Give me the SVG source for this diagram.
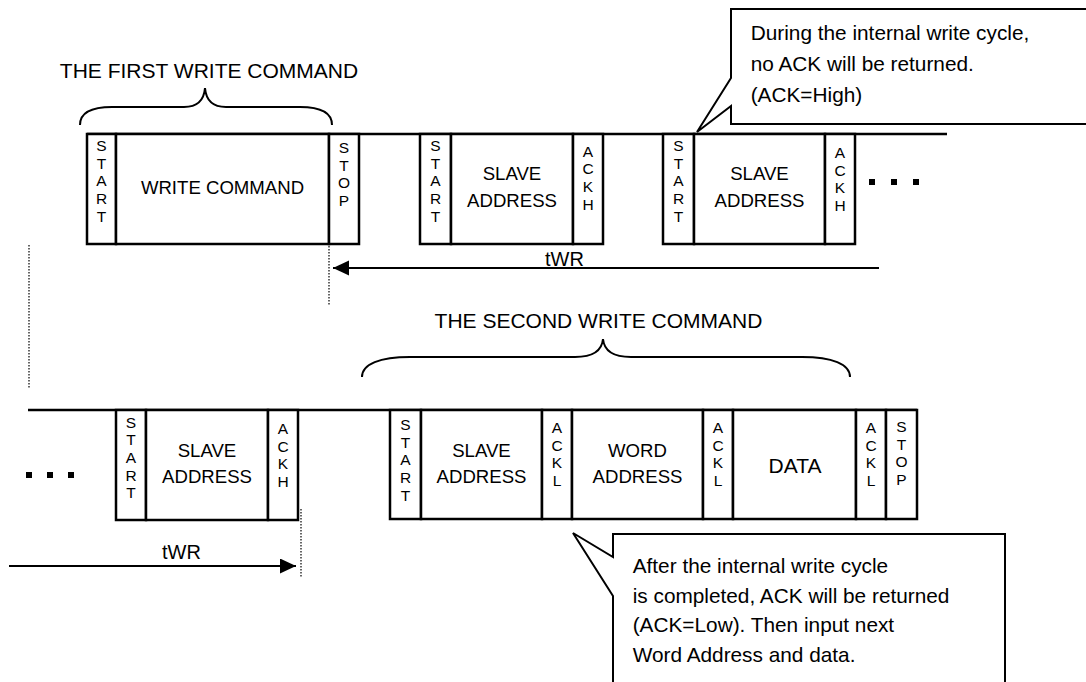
<svg xmlns="http://www.w3.org/2000/svg" width="1086" height="682" viewBox="0 0 1086 682">
<style>
  .bg{fill:#fff}
  .fld{fill:#fff;stroke:#000;stroke-width:2.5}
  .bus{fill:none;stroke:#000;stroke-width:2.5}
  .lbl{font-family:"Liberation Sans",Arial,sans-serif;font-size:18.6px;fill:#000;text-anchor:middle}
  .big{font-family:"Liberation Sans",Arial,sans-serif;font-size:21px;fill:#000;text-anchor:middle}
  .vert{font-family:"Liberation Sans",Arial,sans-serif;font-size:15.5px;fill:#000;text-anchor:middle}
  .note{font-family:"Liberation Sans",Arial,sans-serif;font-size:20.8px;fill:#000}
  .twr{font-family:"Liberation Sans",Arial,sans-serif;font-size:20px;fill:#000;text-anchor:middle}
  .brace{fill:none;stroke:#000;stroke-width:2}
  .callout{fill:#fff;stroke:#000;stroke-width:2}
  .arr{fill:none;stroke:#000;stroke-width:2}
  .dot{fill:none;stroke:#000;stroke-width:1.2;stroke-dasharray:1.5 1.5}
  .sq{fill:#000}
</style>
<defs>
  <marker id="ah" markerUnits="userSpaceOnUse" markerWidth="17" markerHeight="16" refX="16" refY="7.5" orient="auto">
    <path d="M0,0 L16,7.5 L0,15 z" fill="#000"/>
  </marker>
</defs>
<rect class="bg" x="0" y="0" width="1086" height="682"/>

<!-- bus lines -->
<g id="bus-lines">
  <line class="bus" x1="87" y1="134" x2="947" y2="134"/>
  <line class="bus" x1="28" y1="410" x2="917" y2="410"/>
</g>

<!-- Top row -->
<g id="t-start1"><rect class="fld" x="87" y="134" width="29" height="110"/>
  <text class="vert" x="101.5" y="151"><tspan x="101.5">S</tspan><tspan x="101.5" dy="17.7">T</tspan><tspan x="101.5" dy="17.7">A</tspan><tspan x="101.5" dy="17.7">R</tspan><tspan x="101.5" dy="17.7">T</tspan></text></g>
<g id="t-write"><rect class="fld" x="116" y="134" width="213" height="110"/>
  <text class="lbl" x="222.5" y="194">WRITE COMMAND</text></g>
<g id="t-stop1"><rect class="fld" x="329" y="134" width="30" height="110"/>
  <text class="vert" x="344" y="153"><tspan x="344">S</tspan><tspan x="344" dy="17.7">T</tspan><tspan x="344" dy="17.7">O</tspan><tspan x="344" dy="17.7">P</tspan></text></g>

<g id="t-start2"><rect class="fld" x="420" y="134" width="31" height="110"/>
  <text class="vert" x="435.5" y="151"><tspan x="435.5">S</tspan><tspan x="435.5" dy="17.7">T</tspan><tspan x="435.5" dy="17.7">A</tspan><tspan x="435.5" dy="17.7">R</tspan><tspan x="435.5" dy="17.7">T</tspan></text></g>
<g id="t-slave2"><rect class="fld" x="451" y="134" width="122" height="110"/>
  <text class="lbl" x="512" y="180">SLAVE</text><text class="lbl" x="512" y="207">ADDRESS</text></g>
<g id="t-ackh2"><rect class="fld" x="573" y="134" width="30" height="110"/>
  <text class="vert" x="588" y="156.5"><tspan x="588">A</tspan><tspan x="588" dy="17.7">C</tspan><tspan x="588" dy="17.7">K</tspan><tspan x="588" dy="17.7">H</tspan></text></g>

<g id="t-start3"><rect class="fld" x="663" y="134" width="31" height="110"/>
  <text class="vert" x="678.5" y="151"><tspan x="678.5">S</tspan><tspan x="678.5" dy="17.7">T</tspan><tspan x="678.5" dy="17.7">A</tspan><tspan x="678.5" dy="17.7">R</tspan><tspan x="678.5" dy="17.7">T</tspan></text></g>
<g id="t-slave3"><rect class="fld" x="694" y="134" width="131" height="110"/>
  <text class="lbl" x="759.5" y="180">SLAVE</text><text class="lbl" x="759.5" y="207">ADDRESS</text></g>
<g id="t-ackh3"><rect class="fld" x="825" y="134" width="30" height="110"/>
  <text class="vert" x="840" y="158"><tspan x="840">A</tspan><tspan x="840" dy="17.7">C</tspan><tspan x="840" dy="17.7">K</tspan><tspan x="840" dy="17.7">H</tspan></text></g>
<g id="t-dots">
  <rect class="sq" x="869" y="179" width="6" height="6"/>
  <rect class="sq" x="891" y="179" width="6" height="6"/>
  <rect class="sq" x="913" y="179" width="6" height="6"/>
</g>

<!-- Bottom row -->
<g id="b-dots">
  <rect class="sq" x="26" y="472" width="6" height="6"/>
  <rect class="sq" x="47" y="472" width="6" height="6"/>
  <rect class="sq" x="68" y="472" width="6" height="6"/>
</g>
<g id="b-start1"><rect class="fld" x="116" y="410" width="30" height="110"/>
  <text class="vert" x="131" y="427.5"><tspan x="131">S</tspan><tspan x="131" dy="17.7">T</tspan><tspan x="131" dy="17.7">A</tspan><tspan x="131" dy="17.7">R</tspan><tspan x="131" dy="17.7">T</tspan></text></g>
<g id="b-slave1"><rect class="fld" x="146" y="410" width="122" height="110"/>
  <text class="lbl" x="207" y="456.5">SLAVE</text><text class="lbl" x="207" y="483">ADDRESS</text></g>
<g id="b-ackh1"><rect class="fld" x="268" y="410" width="30" height="110"/>
  <text class="vert" x="283" y="434"><tspan x="283">A</tspan><tspan x="283" dy="17.7">C</tspan><tspan x="283" dy="17.7">K</tspan><tspan x="283" dy="17.7">H</tspan></text></g>

<g id="b-start2"><rect class="fld" x="390" y="410" width="31" height="109"/>
  <text class="vert" x="405.5" y="430"><tspan x="405.5">S</tspan><tspan x="405.5" dy="17.7">T</tspan><tspan x="405.5" dy="17.7">A</tspan><tspan x="405.5" dy="17.7">R</tspan><tspan x="405.5" dy="17.7">T</tspan></text></g>
<g id="b-slave2"><rect class="fld" x="421" y="410" width="121" height="109"/>
  <text class="lbl" x="481.5" y="456.5">SLAVE</text><text class="lbl" x="481.5" y="483">ADDRESS</text></g>
<g id="b-ackl1"><rect class="fld" x="542" y="410" width="30" height="109"/>
  <text class="vert" x="557" y="433"><tspan x="557">A</tspan><tspan x="557" dy="17.7">C</tspan><tspan x="557" dy="17.7">K</tspan><tspan x="557" dy="17.7">L</tspan></text></g>
<g id="b-word"><rect class="fld" x="572" y="410" width="131" height="109"/>
  <text class="lbl" x="637.5" y="456.5">WORD</text><text class="lbl" x="637.5" y="483">ADDRESS</text></g>
<g id="b-ackl2"><rect class="fld" x="703" y="410" width="30" height="109"/>
  <text class="vert" x="718" y="433"><tspan x="718">A</tspan><tspan x="718" dy="17.7">C</tspan><tspan x="718" dy="17.7">K</tspan><tspan x="718" dy="17.7">L</tspan></text></g>
<g id="b-data"><rect class="fld" x="733" y="410" width="123" height="109"/>
  <text class="big" x="795" y="473">DATA</text></g>
<g id="b-ackl3"><rect class="fld" x="856" y="410" width="30" height="109"/>
  <text class="vert" x="871" y="433"><tspan x="871">A</tspan><tspan x="871" dy="17.7">C</tspan><tspan x="871" dy="17.7">K</tspan><tspan x="871" dy="17.7">L</tspan></text></g>
<g id="b-stop"><rect class="fld" x="886" y="410" width="31" height="109"/>
  <text class="vert" x="901.5" y="432"><tspan x="901.5">S</tspan><tspan x="901.5" dy="17.7">T</tspan><tspan x="901.5" dy="17.7">O</tspan><tspan x="901.5" dy="17.7">P</tspan></text></g>

<!-- Braces and titles -->
<g id="first-cmd">
  <text class="big" x="209" y="78">THE FIRST WRITE COMMAND</text>
  <path class="brace" d="M80,125 C80,113 90,107 112,107 L184,107 C197,107 204,100 205,88 C206,100 213,107 226,107 L300,107 C322,107 332,113 332,125"/>
</g>
<g id="second-cmd">
  <text class="big" x="598.5" y="328">THE SECOND WRITE COMMAND</text>
  <path class="brace" d="M362,377 C362,364 380,357 410,357 L575,357 C593,357 602,350 603,339 C604,350 613,357 631,357 L802,357 C832,357 850,364 850,377"/>
</g>

<!-- Callouts -->
<g id="callout-high">
  <path class="callout" d="M731,9 L1090,9 L1090,124 L731,124 L731,106 L697,132 L731,78 Z"/>
  <text class="note" x="750.7" y="39.5">During the internal write cycle,</text>
  <text class="note" x="750.7" y="71">no ACK will be returned.</text>
  <text class="note" x="750.7" y="101.5">(ACK=High)</text>
</g>
<g id="callout-low">
  <path class="callout" d="M613,534 L1005,534 L1005,690 L613,690 L613,596 L573,533 L613,557 Z"/>
  <text class="note" x="632.7" y="573.3">After the internal write cycle</text>
  <text class="note" x="632.7" y="602.7">is completed, ACK will be returned</text>
  <text class="note" x="632.7" y="632">(ACK=Low). Then input next</text>
  <text class="note" x="632.7" y="661.5">Word Address and data.</text>
</g>

<!-- Connectors -->
<g id="connectors">
  <line class="arr" x1="879" y1="268" x2="333" y2="268" marker-end="url(#ah)"/>
  <text class="twr" x="564.5" y="265.5">tWR</text>
  <line class="arr" x1="9" y1="566" x2="296" y2="566" marker-end="url(#ah)"/>
  <text class="twr" x="181.5" y="559">tWR</text>
  <line class="dot" x1="329" y1="246" x2="329" y2="305"/>
  <line class="dot" x1="29" y1="245" x2="29" y2="388"/>
  <line class="dot" x1="301" y1="509" x2="301" y2="578"/>
</g>
</svg>
